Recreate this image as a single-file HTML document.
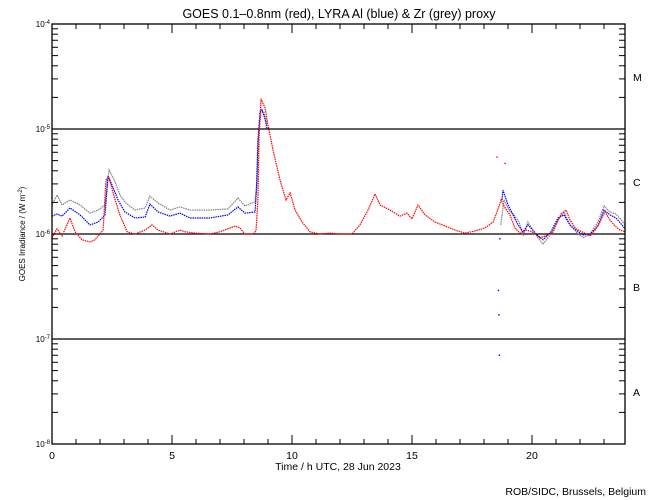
<!DOCTYPE html>
<html><head><meta charset="utf-8"><style>
body{margin:0;background:#fff;}
svg{display:block;font-family:"Liberation Sans",sans-serif;}
</style></head><body>
<svg id="chart" width="650" height="500" viewBox="0 0 650 500">
<rect width="650" height="500" fill="#fff"/>
<text x="339" y="18" font-size="12.5" text-anchor="middle">GOES 0.1–0.8nm (red), LYRA Al (blue) &amp; Zr (grey) proxy</text>
<g id="grid"></g><g id="series"></g><g id="axes"></g>
<text x="338" y="470" font-size="10.5" text-anchor="middle">Time / h UTC, 28 Jun 2023</text>
<text transform="translate(25,234) rotate(-90)" font-size="8" text-anchor="middle">GOES Irradiance / (W m<tspan dy="-3" font-size="6">-2</tspan><tspan dy="3">)</tspan></text>
<text x="646" y="495" font-size="10.5" text-anchor="end">ROB/SIDC, Brussels, Belgium</text>
</svg>
<script>
const redT=[0,0.21,0.42,0.75,0.96,1.25,1.58,1.79,2.13,2.25,2.38,2.63,2.83,3.13,3.46,3.88,4.17,4.42,4.92,5.33,5.54,5.96,6.58,7.0,7.63,7.83,8.04,8.38,8.5,8.58,8.63,8.71,8.88,9.0,9.21,9.5,9.75,9.92,10.13,10.42,10.75,11.17,11.58,12.0,12.5,12.83,13.17,13.46,13.67,14.08,14.5,14.79,15.0,15.25,15.54,15.96,16.38,16.79,17.21,17.63,18.04,18.38,18.54,18.71,18.88,19.08,19.29,19.5,19.75,20.0,20.33,20.58,20.88,21.21,21.42,21.58,21.83,22.08,22.42,22.63,22.83,23.04,23.25,23.46,23.67,23.88];
const redV=[0.92,1.12,0.96,1.42,1.05,0.88,0.84,0.88,1.09,3.27,3.42,2.11,1.52,1.05,1.0,1.09,1.22,1.09,1.0,1.09,1.05,1.02,1.0,1.05,1.19,1.14,1.0,1.0,1.07,2.11,8.77,19.4,15.8,10.9,6.3,3.27,2.11,2.46,1.69,1.30,1.05,1.0,1.02,1.0,1.0,1.22,1.69,2.40,1.89,1.69,1.48,1.58,1.39,1.89,1.52,1.30,1.19,1.09,1.02,1.07,1.14,1.30,1.62,2.11,1.77,1.52,1.14,1.02,1.09,1.05,0.92,0.96,1.05,1.55,1.69,1.36,1.12,1.05,0.96,1.09,1.30,1.62,1.36,1.19,1.09,1.05];
const redOutT=[18.54,18.88];
const redOutV=[5.4,4.7];
const blueT1=[0,0.21,0.42,0.75,1.17,1.58,1.92,2.21,2.33,2.5,2.75,3.04,3.46,3.88,4.08,4.42,4.92,5.33,5.75,6.58,7.33,7.75,8.04,8.46,8.52,8.58,8.67,8.75,8.88,8.96];
const blueV1=[1.48,1.55,1.48,1.77,1.52,1.22,1.30,1.52,3.57,2.93,2.11,1.62,1.42,1.45,1.93,1.62,1.48,1.58,1.42,1.42,1.52,1.81,1.58,1.62,2.62,7.85,14.5,15.2,12.4,10.0];
const blueT2=[18.75,18.79,19.0,19.21,19.42,19.63,19.83,20.25,20.46,20.79,21.08,21.33,21.58,21.83,22.13,22.42,22.75,23.0,23.25,23.5,23.79,23.9];
const blueV2=[2.11,2.62,1.89,1.52,1.22,1.05,1.22,0.96,0.88,1.05,1.42,1.52,1.22,1.09,0.98,1.0,1.19,1.69,1.52,1.42,1.19,1.1];
const blueOutT=[18.6,18.62,18.64,18.66];
const blueOutV=[0.29,0.17,0.07,0.9];
const greyT1=[0,0.21,0.42,0.75,1.17,1.58,1.92,2.21,2.38,2.6,2.83,3.08,3.46,3.88,4.08,4.42,4.92,5.33,5.75,6.58,7.33,7.75,8.04,8.46,8.54,8.6,8.71,8.83,8.96];
const greyV1=[1.89,2.35,1.89,2.11,1.89,1.58,1.69,1.89,4.06,3.27,2.35,1.97,1.69,1.77,2.30,1.97,1.69,1.81,1.69,1.69,1.73,2.20,1.85,2.02,3.27,7.85,15.2,14.5,10.9];
const greyT2=[18.7,18.83,19.04,19.25,19.46,19.63,19.83,20.25,20.46,20.79,21.08,21.33,21.58,21.83,22.13,22.42,22.75,23.0,23.25,23.5,23.79,23.9];
const greyV2=[1.22,2.11,1.69,1.52,1.30,0.96,1.30,0.92,0.80,1.0,1.36,1.62,1.22,1.05,0.92,1.0,1.30,1.85,1.62,1.55,1.30,1.2];
const xTicks=[0,5,10,15,20];
const yDecades=[-8,-7,-6,-5,-4];
const classLabels=["A","B","C","M"];

const L=52,R=625,T=24,B=444;
const x=h=>L+h*24;
const y=v=>T+(-4-Math.log10(v))*105;
const yl=e=>T+(-4-e)*105;
const NS="http://www.w3.org/2000/svg";
function mk(tag,attrs,parent){const e=document.createElementNS(NS,tag);for(const k in attrs)e.setAttribute(k,attrs[k]);parent.appendChild(e);return e;}
const grid=document.getElementById('grid'),ser=document.getElementById('series'),ax=document.getElementById('axes');

[-7,-6,-5].forEach(d=>{
 const l=mk('line',{x1:L,x2:R,y1:yl(d),y2:yl(d),stroke:'#000','stroke-width':1.3},grid);
 
 
});
function series(ts,vs,col,name){
 const p=mk('polyline',{points:ts.map((t,i)=>x(t)+','+y(vs[i]*1e-6)).join(' '),fill:'none',stroke:col,'stroke-width':1.2,'stroke-dasharray':'1.5 0.8'},ser);
 
 
}
function dots(ts,vs,col,name){
 ts.forEach((t,i)=>{const r=mk('rect',{x:x(t)-0.7,y:y(vs[i]*1e-6)-0.7,width:1.4,height:1.4,fill:col},ser);
 
 });
}
series(greyT1,greyV1,'#808080','zr-proxy-series');
series(greyT2,greyV2,'#808080','zr-proxy-series');
series(blueT1,blueV1,'#0000ff','al-proxy-series');
series(blueT2,blueV2,'#0000ff','al-proxy-series');
series(redT,redV,'#ff0000','goes-series');
dots(redOutT,redOutV,'#ff0000','goes-outlier');
dots(blueOutT,blueOutV,'#0000ff','al-outlier');

const fr=mk('rect',{x:L,y:T,width:R-L,height:B-T,fill:'none',stroke:'#000','stroke-width':1.3},ax);


for(let h=1;h<24;h++){
 const len=h%5===0?9:5;
 mk('line',{x1:x(h),x2:x(h),y1:B,y2:B-len,stroke:'#000'},ax);
 mk('line',{x1:x(h),x2:x(h),y1:T,y2:T+len,stroke:'#000'},ax);
}
xTicks.forEach(h=>{const t=mk('text',{x:x(h),y:B+15,'font-size':10.5,'text-anchor':'middle'},ax);t.textContent=h;
 
 });
yDecades.forEach((d,i)=>{
 const t=mk('text',{x:L-2,y:yl(d)+3,'font-size':8,'text-anchor':'end'},ax);
 t.innerHTML='10<tspan dy="-3" font-size="6">'+d+'</tspan>';
 
 
 if(i<4)for(let m=2;m<=9;m++){const yy=yl(d)-Math.log10(m)*105;
  mk('line',{x1:L,x2:L+6,y1:yy,y2:yy,stroke:'#000'},ax);
  mk('line',{x1:R,x2:R-6,y1:yy,y2:yy,stroke:'#000'},ax);}
 mk('line',{x1:L,x2:L+10,y1:yl(d),y2:yl(d),stroke:'#000'},ax);
 mk('line',{x1:R,x2:R-10,y1:yl(d),y2:yl(d),stroke:'#000'},ax);
});
classLabels.forEach((c,i)=>{const t=mk('text',{x:633,y:yl(-8+i)-48,'font-size':10.5},ax);t.textContent=c;
 
 });
</script>
</body></html>
